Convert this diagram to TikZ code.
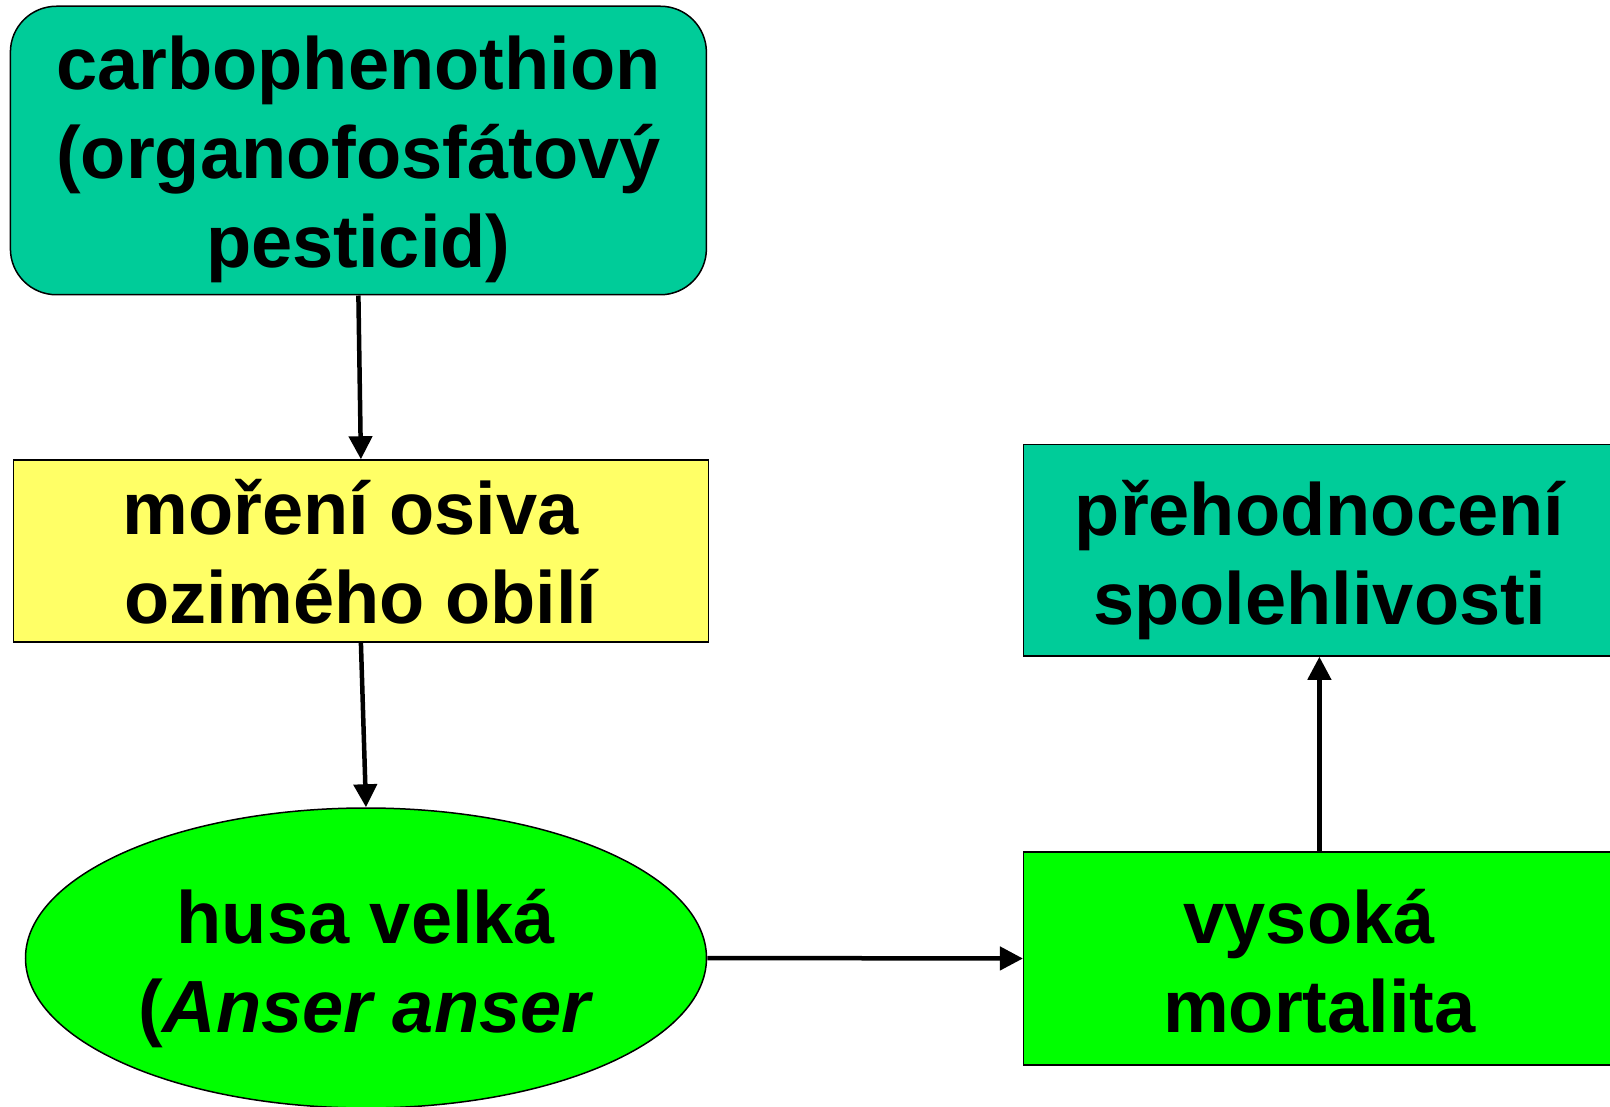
\documentclass[tikz,border=0pt]{standalone}
\usepackage{fontspec}
\setmainfont{Liberation Sans}
\usetikzlibrary{shapes.geometric,arrows.meta}
\definecolor{teal1}{HTML}{00CC99}
\definecolor{yel1}{HTML}{FFFF66}
\definecolor{grn1}{HTML}{00FF00}
\newcommand{\boxtxt}[2]{\raisebox{#1}[0pt][0pt]{\begin{tabular}[t]{@{}c@{}}#2\end{tabular}}}
\newcommand{\tsp}{\kern0.278em}
\begin{document}
\begin{tikzpicture}[x=1pt,y=-1pt,
  lbl/.style={font=\fontsize{74}{89}\selectfont\bfseries, inner sep=0pt, text=black},
  boxr/.style={lbl, rectangle, draw=black, line width=1.5pt},
  conn/.style={line width=4.5pt, -{Triangle[length=23pt,width=23pt]}}]
\useasboundingbox (0,0) rectangle (1610,1107);
\clip (0,0) rectangle (1610,1107);
\node[boxr, fill=teal1, rounded corners=46pt, minimum width=696pt, minimum height=288.5pt] (pest) at (358.4,150.5)
  {\boxtxt{61pt}{carbophenothion\\(organofosfátový\\pesticid)}};
\node[boxr, fill=yel1, minimum width=695.2pt, minimum height=181.8pt] (mor) at (360.9,550.9)
  {\boxtxt{16.5pt}{moření osiva\tsp\\ozimého obilí}};
\node[lbl, ellipse, draw=black, line width=1.5pt, fill=grn1, minimum width=681pt, minimum height=300pt] (husa) at (366,958)
  {\boxtxt{15pt}{husa velká\\(\textit{Anser anser}}};
\node[boxr, fill=grn1, minimum width=591.4pt, minimum height=213pt] (mort) at (1319.4,958.5)
  {\boxtxt{15.5pt}{vysoká\tsp\\mortalita}};
\node[boxr, fill=teal1, minimum width=591.4pt, minimum height=211.4pt] (preh) at (1319.4,550.3)
  {\boxtxt{15.3pt}{přehodnocení\\spolehlivosti}};
\draw[conn] (pest.south) -- (mor.north);
\draw[conn] (mor.south) -- (husa.north);
\draw[conn] (husa.east) -- (mort.west);
\draw[conn] (mort.north) -- (preh.south);
\end{tikzpicture}
\end{document}
